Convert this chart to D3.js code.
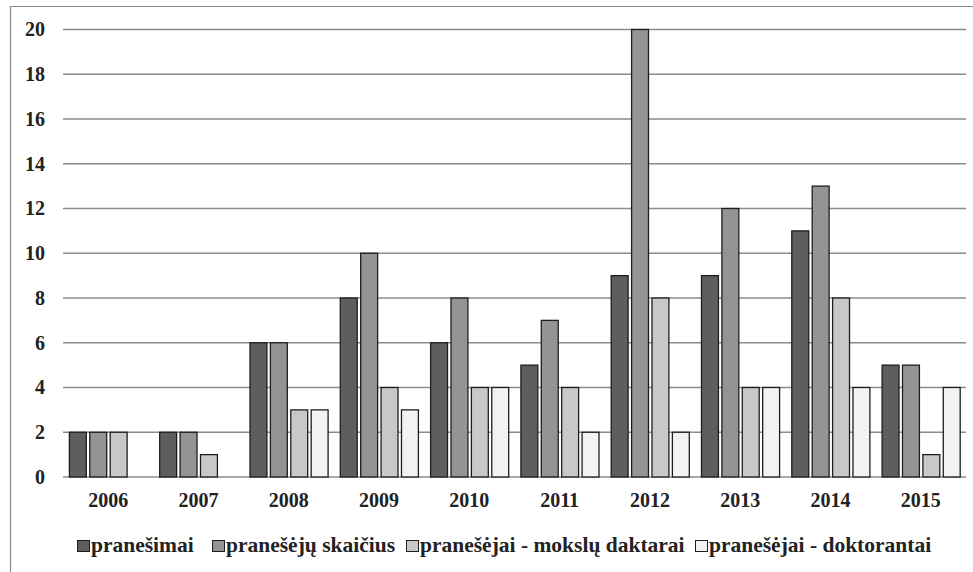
<!DOCTYPE html>
<html>
<head>
<meta charset="utf-8">
<script src="https://cdn.jsdelivr.net/npm/d3@7"></script>
<style>
  html, body { margin: 0; padding: 0; background: #fff; }
  svg { display: block; }
  svg text { font-family: 'Liberation Serif', 'Tinos', 'Times New Roman', 'DejaVu Serif', serif; font-weight: bold; }
</style>
</head>
<body>
<svg id="chart" width="973" height="572"></svg>
<script>
const years = ['2006', '2007', '2008', '2009', '2010', '2011', '2012', '2013', '2014', '2015']
const seriesNames = [
  'pranešimai',
  'pranešėjų skaičius',
  'pranešėjai - mokslų daktarai',
  'pranešėjai - doktorantai'
]
const pranesimai = [2, 2, 6, 8, 6, 5, 9, 9, 11, 5]
const pranesejuSkaicius = [2, 2, 6, 10, 8, 7, 20, 12, 13, 5]
const mokslųDaktarai = [2, 1, 3, 4, 4, 4, 8, 4, 8, 1]
const doktorantai = [0, 0, 3, 3, 4, 2, 2, 4, 4, 4]
const yTicks = [0, 2, 4, 6, 8, 10, 12, 14, 16, 18, 20]

const seriesValues = [pranesimai, pranesejuSkaicius, mokslųDaktarai, doktorantai]
const colors = ['#5e5e5e', '#949494', '#c8c8c8', '#f2f2f2']

const svg = d3.select('#chart')

// outer frame (cut on the right and bottom like the scan)
svg.append('path')
  .attr('d', 'M10.5,572 L10.5,6.5 L973,6.5')
  .attr('fill', 'none')
  .attr('stroke', '#8a8a8a')
  .attr('stroke-width', 1.2)

const plot = { left: 63, right: 966, top: 29.5, bottom: 477 }

const x0 = d3.scaleBand().domain(years).range([plot.left, plot.right]).padding(0)
const x1 = d3.scaleBand()
  .domain(d3.range(seriesNames.length))
  .range([6.4, x0.bandwidth() - 5.8])
  .paddingInner(0.17)
const y = d3.scaleLinear().domain([0, 20]).range([plot.bottom, plot.top])

// gridlines
svg.append('g')
  .selectAll('line')
  .data(yTicks)
  .enter()
  .append('line')
  .attr('x1', plot.left)
  .attr('x2', plot.right)
  .attr('y1', (d) => y(d))
  .attr('y2', (d) => y(d))
  .attr('stroke', '#8c8c8c')
  .attr('stroke-width', 1.4)

// y labels
svg.append('g')
  .selectAll('text')
  .data(yTicks)
  .enter()
  .append('text')
  .attr('x', 45)
  .attr('y', (d) => y(d))
  .attr('dy', '0.34em')
  .attr('text-anchor', 'end')
  .attr('font-size', '20px')
  .attr('fill', '#222')
  .text((d) => d)

// bars
const groups = svg.append('g')
  .selectAll('g')
  .data(years)
  .enter()
  .append('g')
  .attr('transform', (d) => `translate(${x0(d)},0)`)

groups.selectAll('rect')
  .data((d, i) => seriesValues.map((vals, s) => ({ s, v: vals[i] })).filter((d) => d.v > 0))
  .enter()
  .append('rect')
  .attr('x', (d) => x1(d.s))
  .attr('width', x1.bandwidth())
  .attr('y', (d) => y(d.v))
  .attr('height', (d) => y(0) - y(d.v))
  .attr('fill', (d) => colors[d.s])
  .attr('stroke', '#1e1e1e')
  .attr('stroke-width', 1.3)

// x labels
svg.append('g')
  .selectAll('text')
  .data(years)
  .enter()
  .append('text')
  .attr('x', (d) => x0(d) + x0.bandwidth() / 2)
  .attr('y', 507)
  .attr('text-anchor', 'middle')
  .attr('font-size', '20px')
  .attr('fill', '#222')
  .text((d) => d)

// legend: swatch left edges as in the reference
const legendX = [77, 212, 406, 695]
const legend = svg.append('g')
seriesNames.forEach((name, i) => {
  legend.append('rect')
    .attr('x', legendX[i] + 0.5)
    .attr('y', 540.5)
    .attr('width', 12)
    .attr('height', 11)
    .attr('fill', colors[i])
    .attr('stroke', '#1e1e1e')
    .attr('stroke-width', 1)
  legend.append('text')
    .attr('x', legendX[i] + 14)
    .attr('y', 552)
    .attr('font-size', '21.5px')
    .attr('fill', '#222')
    .text(name)
})
</script>
</body>
</html>
